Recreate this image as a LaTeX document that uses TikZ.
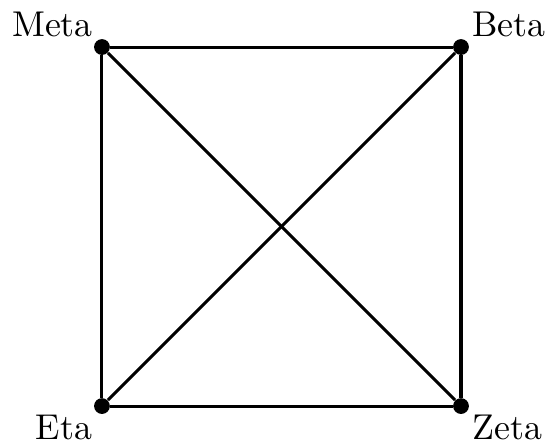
\documentclass[tikz,border=0pt]{standalone}
\usepackage{fontspec}
\usepackage{tikz}
\usetikzlibrary{positioning}
\newfontfamily\namefont{lmroman10-regular.otf}

\begin{document}
\begin{tikzpicture}[
    vertex/.style={
        circle,
        fill=black,
        inner sep=0pt,
        minimum size=0.22cm
    },
    tag/.style={font=\namefont\fontsize{14.2}{17}\selectfont, inner sep=0pt},
    edge/.style={draw=black, line width=1.2pt}
]
\useasboundingbox (-1.42,-0.515) rectangle (6.198,5.655);

\node[vertex] (meta) at (0, 5) {};
\node[vertex] (beta) at (5, 5) {};
\node[vertex] (eta) at (0, 0) {};
\node[vertex] (zeta) at (5, 0) {};

\draw[edge] (meta) -- (beta) -- (zeta) -- (eta) -- (meta);
\draw[edge] (meta) -- (zeta);
\draw[edge] (eta) -- (beta);

% vertex names
\node[tag, anchor=base east] (metaname) at ([shift={(-0.12,0.14)}]meta.center) {Meta};
\node[tag, anchor=base west] (betaname) at ([shift={(0.15,0.14)}]beta.center) {Beta};
\node[tag, anchor=base east] (etaname) at ([shift={(-0.13,-0.46)}]eta.center) {Eta};
\node[tag, anchor=base west] (zetaname) at ([shift={(0.16,-0.46)}]zeta.center) {Zeta};

\end{tikzpicture}
\end{document}
